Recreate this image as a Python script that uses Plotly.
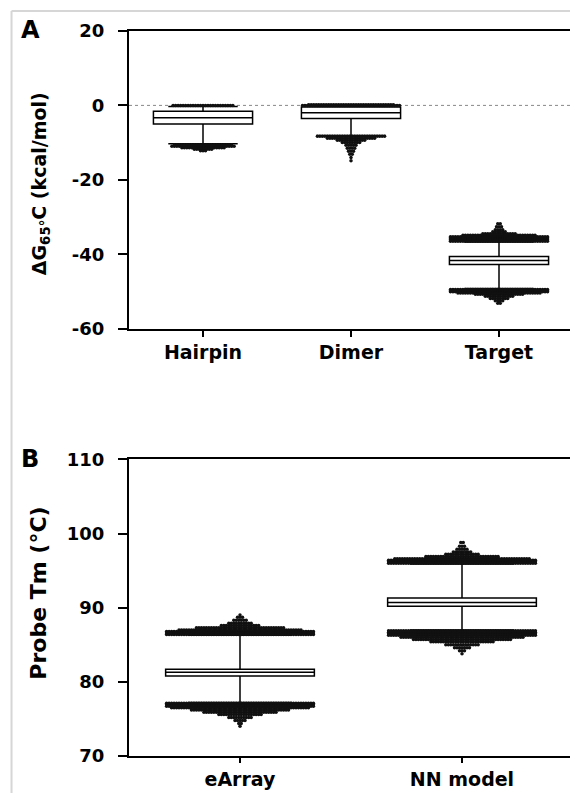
import numpy as np
import plotly.graph_objects as go

# ---------------- data ----------------
top_categories = ["Hairpin", "Dimer", "Target"]
top_q1 = [-5.0, -3.5, -42.8]
top_median = [-3.3, -2.0, -41.7]
top_q3 = [-1.6, -0.4, -40.6]
top_lowerfence = [-10.3, -8.1, -49.2]
top_upperfence = [-0.3, -0.1, -36.7]

# outlier rows: value levels and number of points at each level
hairpin_out_vals = [0.0, -10.6, -11.0, -11.4, -11.8, -12.2]
hairpin_out_counts = [25, 24, 26, 18, 8, 3]
dimer_out_vals = [0.2, 0.0, -8.3, -8.8, -9.4, -10.0, -10.7, -11.5, -12.3, -13.1, -14.0, -14.9]
dimer_out_counts = [35, 40, 28, 20, 12, 8, 5, 4, 3, 2, 1, 1]
target_out_vals = [-31.8, -32.6, -33.4, -34.0, -34.5, -34.9, -35.3, -35.6, -35.9, -36.2, -36.5,
                   -49.5, -49.8, -50.1, -50.4, -50.8, -51.3, -51.9, -52.5, -53.2]
target_out_counts = [2, 3, 4, 6, 14, 30, 40, 40, 40, 40, 40,
                     40, 40, 40, 34, 20, 12, 8, 4, 2]

bottom_categories = ["eArray", "NN model"]
bottom_q1 = [80.8, 90.2]
bottom_median = [81.3, 90.7]
bottom_q3 = [81.7, 91.3]
bottom_lowerfence = [77.2, 87.0]
bottom_upperfence = [86.3, 95.9]

earray_out_vals = [89.0, 88.7, 88.3, 87.9, 87.6, 87.3, 87.0, 86.8, 86.6, 86.4,
                   77.1, 76.9, 76.7, 76.5, 76.2, 75.9, 75.6, 75.2, 74.8, 74.4, 74.0]
earray_out_counts = [1, 3, 6, 10, 16, 36, 50, 60, 60, 60,
                     60, 60, 60, 56, 40, 30, 18, 10, 5, 2, 1]
nn_out_vals = [98.8, 98.3, 97.9, 97.5, 97.2, 96.9, 96.6, 96.4, 96.2, 96.0,
               86.9, 86.7, 86.5, 86.3, 86.0, 85.7, 85.4, 85.0, 84.6, 84.2, 83.8]
nn_out_counts = [2, 3, 5, 8, 14, 30, 55, 60, 60, 60,
                 60, 60, 60, 60, 50, 40, 26, 14, 7, 3, 1]

top_yticks = [-60, -40, -20, 0, 20]
top_yticklabels = ["-60", "-40", "-20", "0", "20"]
bottom_yticks = [70, 80, 90, 100, 110]
bottom_yticklabels = ["70", "80", "90", "100", "110"]


# ---------------- helpers ----------------
def spread_points(center, vals, counts, step, maxhalf):
    xs, ys = [], []
    for v, n in zip(vals, counts):
        if n <= 1:
            xs.append(center)
            ys.append(v)
            continue
        half = min((n - 1) * step / 2.0, maxhalf)
        for xo in np.linspace(-half, half, n):
            xs.append(center + xo)
            ys.append(v)
    return xs, ys


FONT = "DejaVu Sans"
BOX_W = 0.67
OFF = 8                      # page body margin offset
W, H = 570, 785
L, R, T, B = 121, 3, 23, 36
PW = W - L - R
PH = H - T - B


def px_x(px):
    """picture x pixel -> paper fraction"""
    return (px - OFF - L) / PW


def px_y(py):
    """picture y pixel -> paper fraction"""
    return (H - B - (py - OFF)) / PH


fig = go.Figure()

box_style = dict(boxpoints=False, width=BOX_W, whiskerwidth=0.7,
                 fillcolor="white", line=dict(color="black", width=1.5),
                 showlegend=False, hoverinfo="skip")
dot_marker = dict(size=3.5, color="#111111", line=dict(width=0))

# top panel
fig.add_trace(go.Box(
    x=list(range(len(top_categories))), q1=top_q1, median=top_median, q3=top_q3,
    lowerfence=top_lowerfence, upperfence=top_upperfence,
    xaxis="x", yaxis="y", **box_style))

top_step = 2.5 / (PW / 3)
for i, (vals, counts) in enumerate([(hairpin_out_vals, hairpin_out_counts),
                                    (dimer_out_vals, dimer_out_counts),
                                    (target_out_vals, target_out_counts)]):
    xs, ys = spread_points(i, vals, counts, top_step, BOX_W / 2)
    fig.add_trace(go.Scatter(x=xs, y=ys, mode="markers", marker=dot_marker,
                             xaxis="x", yaxis="y", showlegend=False, hoverinfo="skip"))

# bottom panel
fig.add_trace(go.Box(
    x=list(range(len(bottom_categories))), q1=bottom_q1, median=bottom_median, q3=bottom_q3,
    lowerfence=bottom_lowerfence, upperfence=bottom_upperfence,
    xaxis="x2", yaxis="y2", **box_style))

bot_step = 2.5 / (PW / 2)
for i, (vals, counts) in enumerate([(earray_out_vals, earray_out_counts),
                                    (nn_out_vals, nn_out_counts)]):
    xs, ys = spread_points(i, vals, counts, bot_step, BOX_W / 2)
    fig.add_trace(go.Scatter(x=xs, y=ys, mode="markers", marker=dot_marker,
                             xaxis="x2", yaxis="y2", showlegend=False, hoverinfo="skip"))

axis_common = dict(showline=True, linecolor="black", linewidth=2, mirror=True,
                   ticks="outside", tickcolor="black", tickwidth=2,
                   showgrid=False, zeroline=False)
ytickfont = dict(family=FONT, size=18, color="black", weight="bold")
xtickfont = dict(family=FONT, size=19, color="black", weight="bold")

top_bottom_px = 329      # picture y of top panel x-axis
bot_top_px = 460         # picture y of bottom panel top frame

fig.update_layout(
    width=W, height=H,
    margin=dict(l=L, r=R, t=T, b=B),
    paper_bgcolor="white", plot_bgcolor="white",
    xaxis=dict(domain=[0, 1], range=[-0.5, 2.5], tickvals=list(range(3)),
               ticktext=top_categories, ticklen=6, anchor="y", tickfont=xtickfont,
               **axis_common),
    yaxis=dict(domain=[px_y(top_bottom_px), 1.0], range=[-60, 20], tickvals=top_yticks,
               ticktext=top_yticklabels, ticklen=9, ticklabelstandoff=10, anchor="x",
               tickfont=ytickfont, **axis_common),
    xaxis2=dict(domain=[0, 1], range=[-0.5, 1.5], tickvals=list(range(2)),
                ticktext=bottom_categories, ticklen=5, anchor="y2", tickfont=xtickfont,
                **axis_common),
    yaxis2=dict(domain=[0.0, px_y(bot_top_px)], range=[70, 110], tickvals=bottom_yticks,
                ticktext=bottom_yticklabels, ticklen=9, ticklabelstandoff=10, anchor="x2",
                tickfont=ytickfont, **axis_common),
)

# dotted zero line in top panel
fig.add_shape(type="line", xref="x domain", yref="y", x0=0, x1=1, y0=0, y1=0,
              line=dict(color="#888888", width=1, dash="dot"), layer="below")

# light grey border of the figure image
fig.add_shape(type="line", xref="paper", yref="paper",
              x0=px_x(11), x1=px_x(11), y0=px_y(11), y1=px_y(800),
              line=dict(color="#d6d6d6", width=2))
fig.add_shape(type="line", xref="paper", yref="paper",
              x0=px_x(11), x1=px_x(600), y0=px_y(11), y1=px_y(11),
              line=dict(color="#d6d6d6", width=2))

ann_font = dict(family=FONT, color="black")
fig.add_annotation(x=px_x(30), y=px_y(30), xref="paper", yref="paper", text="<b>A</b>",
                   showarrow=False, font=dict(size=24, **ann_font), xanchor="center", yanchor="middle")
fig.add_annotation(x=px_x(30), y=px_y(460), xref="paper", yref="paper", text="<b>B</b>",
                   showarrow=False, font=dict(size=24, **ann_font), xanchor="center", yanchor="middle")
fig.add_annotation(x=px_x(40), y=px_y(184), xref="paper", yref="paper",
                   text="<b>ΔG<sub>65°</sub>C (kcal/mol)</b>", textangle=-90,
                   showarrow=False, font=dict(size=19, **ann_font), xanchor="center", yanchor="middle")
fig.add_annotation(x=px_x(38), y=px_y(594), xref="paper", yref="paper",
                   text="<b>Probe Tm (°C)</b>", textangle=-90,
                   showarrow=False, font=dict(size=22, **ann_font), xanchor="center", yanchor="middle")

fig.write_html("out.html")
